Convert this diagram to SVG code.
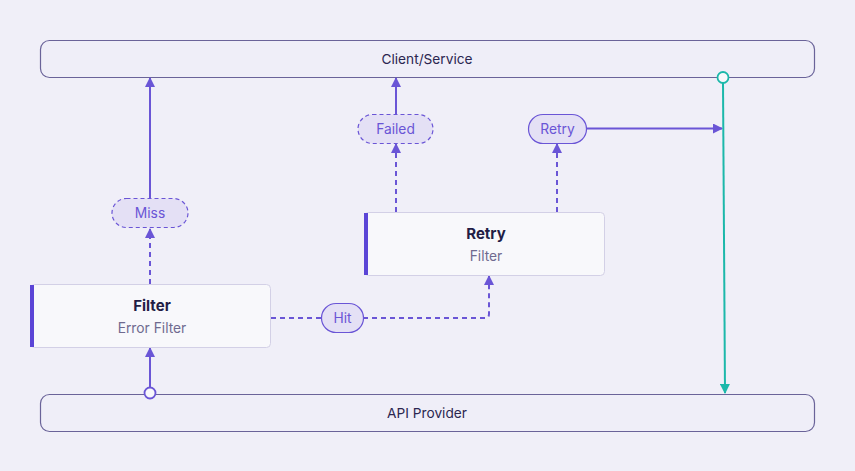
<svg xmlns="http://www.w3.org/2000/svg" width="855" height="471" viewBox="0 0 855 471">
<defs>
<style>
.bar{fill:#efeef8;stroke:#6a6399;stroke-width:1.2}
.bt{font-family:Inter,"Noto Sans",sans-serif;font-size:13.7px;fill:#2b2650;text-anchor:middle}
.node{fill:#f8f8fb;stroke:#d3d0e6;stroke-width:1}
.acc{fill:#5b45d6}
.title{font-family:Inter,"Noto Sans",sans-serif;font-size:15px;font-weight:700;fill:#221d45;text-anchor:middle}
.sub{font-family:Inter,"Noto Sans",sans-serif;font-size:13.8px;fill:#6f6a8f;text-anchor:middle}
.pill{fill:#e4e0f5;stroke:#6a55d6;stroke-width:1.2}
.pd{stroke-dasharray:4 3}
.pt{font-family:Inter,"Noto Sans",sans-serif;font-size:13.8px;fill:#6a55d6;text-anchor:middle}
.c{fill:none;stroke:#6a55d6;stroke-width:2}
.d{stroke-dasharray:5 4}
.t{fill:none;stroke:#1cb8aa;stroke-width:2}
</style>
<marker id="a" viewBox="0 0 10 10" refX="9" refY="5" markerWidth="10" markerHeight="10" markerUnits="userSpaceOnUse" orient="auto"><path d="M0,0 L10,5 L0,10 z" fill="#6a55d6"/></marker>
<marker id="at" viewBox="0 0 10 10" refX="9" refY="5" markerWidth="10" markerHeight="10" markerUnits="userSpaceOnUse" orient="auto"><path d="M0,0 L10,5 L0,10 z" fill="#1cb8aa"/></marker>
</defs>
<rect width="855" height="471" fill="#f0eff8"/>
<g id="client"><rect class="bar" x="40.5" y="40.5" width="774" height="37" rx="9"/><text class="bt" x="427" y="63.8">Client/Service</text></g>
<g id="api"><rect class="bar" x="40.5" y="394.5" width="774" height="37" rx="9"/><text class="bt" x="427" y="417.8">API Provider</text></g>
<g id="connectors">
<path class="c d" d="M150,284 V229" marker-end="url(#a)"/>
<path class="c" d="M150,198 V78" marker-end="url(#a)"/>
<path class="c d" d="M396,212 V144" marker-end="url(#a)"/>
<path class="c" d="M396,114 V78" marker-end="url(#a)"/>
<path class="c d" d="M557,212 V144" marker-end="url(#a)"/>
<path class="c" d="M587,128.5 H722" marker-end="url(#a)"/>
<path class="c d" d="M271,318 H321"/>
<path class="c d" d="M363,318 H485 Q489,318 489,314 V276" marker-end="url(#a)"/>
<path class="c" d="M150,388 V348" marker-end="url(#a)"/>
<circle cx="150" cy="393" r="5.5" fill="#f8f8fb" stroke="#6a55d6" stroke-width="1.8"/>
<path class="t" d="M723,83 L725,393" marker-end="url(#at)"/>
<circle cx="723" cy="77.5" r="5.5" fill="#f8f8fb" stroke="#1cb8aa" stroke-width="1.8"/>
</g>
<g id="filter"><rect class="node" x="30.5" y="284.5" width="240" height="63" rx="4"/><rect class="acc" x="30" y="285" width="4" height="62"/><text class="title" x="152" y="311">Filter</text><text class="sub" x="152" y="333">Error Filter</text></g>
<g id="retry"><rect class="node" x="364.5" y="212.5" width="240" height="63" rx="4"/><rect class="acc" x="364" y="213" width="4" height="62"/><text class="title" x="486" y="239">Retry</text><text class="sub" x="486" y="261">Filter</text></g>
<g id="miss"><rect class="pill pd" x="112" y="198.5" width="76" height="29" rx="14.5"/><text class="pt" x="150" y="217.8">Miss</text></g>
<g id="failed"><rect class="pill pd" x="358" y="114.5" width="75" height="29" rx="14.5"/><text class="pt" x="395.5" y="133.8">Failed</text></g>
<g id="retrypill"><rect class="pill" x="528.5" y="114.5" width="58" height="29" rx="14.5"/><text class="pt" x="557.5" y="133.8">Retry</text></g>
<g id="hit"><rect class="pill" x="321.5" y="303.5" width="42" height="29" rx="14.5"/><text class="pt" x="342.5" y="322.8">Hit</text></g>
</svg>
